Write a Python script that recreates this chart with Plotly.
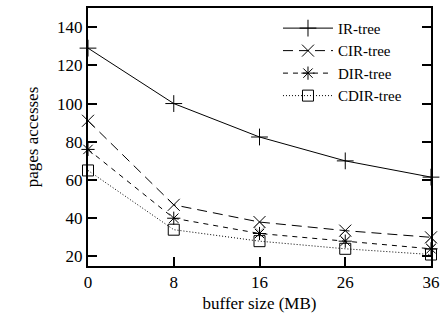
import plotly.graph_objects as go

buffer_sizes = ["0", "8", "16", "26", "36"]
ir_tree = [129, 100, 82.5, 70, 61.5]
cir_tree = [91, 47, 38, 33.5, 30]
dir_tree = [76, 40, 32, 28, 24]
cdir_tree = [65, 34, 28, 24, 21]
faint_diamonds = [None, None, 35.5, 31, 27]

FONT = "Liberation Serif"

fig = go.Figure()

series = [
    ("IR-tree", ir_tree, "solid", "cross-thin-open", 12),
    ("CIR-tree", cir_tree, "10px,6px", "x-thin-open", 12),
    ("DIR-tree", dir_tree, "5px,5px", "asterisk-open", 11),
    ("CDIR-tree", cdir_tree, "1px,2px", "square-open", 11),
]

fig.add_trace(go.Scatter(
    x=buffer_sizes, y=faint_diamonds, mode="markers", showlegend=False,
    marker=dict(symbol="diamond-open", size=8, color="#999999", line=dict(width=1, color="#999999")),
    cliponaxis=False, hoverinfo="skip"))

for name, vals, dash, sym, size in series:
    fig.add_trace(go.Scatter(
        x=buffer_sizes, y=vals, name=name, mode="lines+markers",
        line=dict(color="black", width=1, dash=dash),
        marker=dict(symbol=sym, size=size, color="black", line=dict(width=1, color="black")),
        cliponaxis=False))

fig.update_layout(
    width=446, height=320,
    margin=dict(l=88, r=14, t=6, b=54),
    paper_bgcolor="white", plot_bgcolor="white",
    font=dict(family=FONT, size=17, color="black"),
    showlegend=True,
    legend=dict(x=0.93, y=0.985, xanchor="right", yanchor="top",
                bgcolor="rgba(0,0,0,0)", font=dict(family=FONT, size=15),
                tracegroupgap=0, itemwidth=50),
    xaxis=dict(type="category", range=[0, 4], showgrid=False, zeroline=False,
               showline=True, linecolor="black", linewidth=2, mirror=True,
               ticks="inside", ticklen=9, tickcolor="black", tickwidth=1.5,
               title=dict(text="buffer size (MB)", font=dict(family=FONT, size=17), standoff=6)),
    yaxis=dict(range=[15, 150], tickvals=[20, 40, 60, 80, 100, 120, 140], showgrid=False,
               zeroline=False, showline=True, linecolor="black", linewidth=2, mirror="ticks",
               ticks="inside", ticklen=9, tickcolor="black", tickwidth=1.5,
               title=dict(text="pages accesses", font=dict(family=FONT, size=17), standoff=14)),
)

fig.write_html("out.html", config={"displayModeBar": False},
               post_script="document.body.style.margin='0';")
